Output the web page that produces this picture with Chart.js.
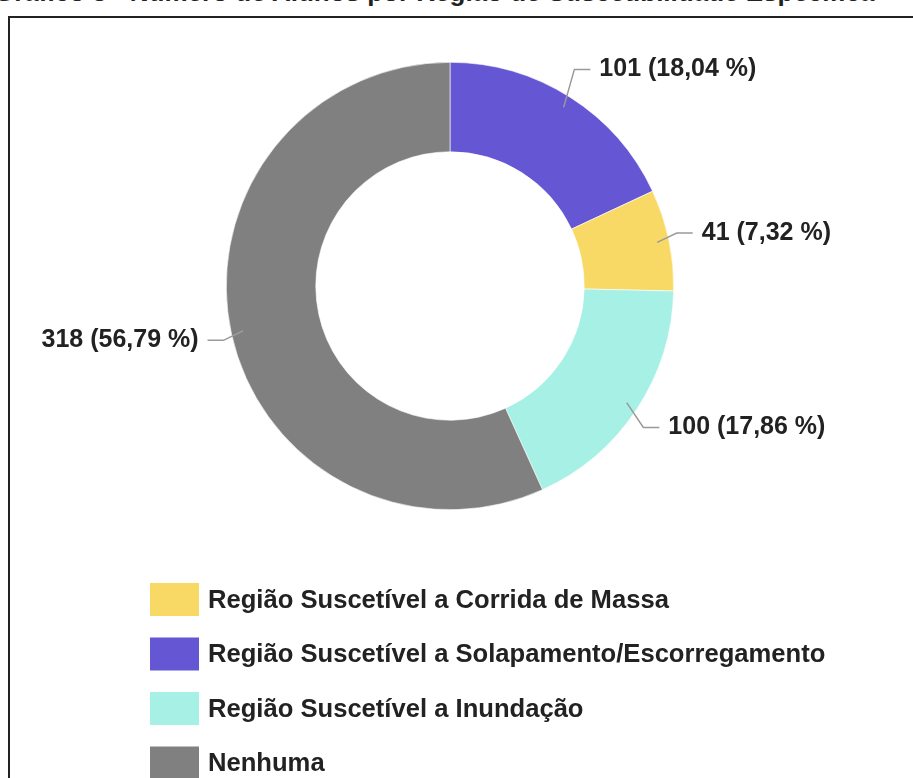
<!DOCTYPE html>
<html lang="pt-BR">
<head>
<meta charset="utf-8">
<title>Número de Alunos por Região de Suscetibilidade</title>
<script src="https://cdn.jsdelivr.net/npm/chart.js@4.4.1/dist/chart.umd.min.js"></script>
<style>
  html, body { margin: 0; padding: 0; background: #fff; overflow: hidden; }
  #wrap { position: relative; width: 913px; height: 778px; }
  #titulo { position: absolute; left: 0; top: 0; width: 913px; height: 15px; overflow: hidden; }
  #titulo span { position: absolute; left: -6px; top: -21px; white-space: nowrap;
    font: bold 26px "Liberation Sans", Arial, sans-serif; line-height: 26px; color: #222; }
  #moldura { position: absolute; left: 8px; top: 16px; width: 940px; height: 800px;
    border-left: 2px solid #222; border-top: 2px solid #222; }
  canvas { position: absolute; left: 0; top: 0; }
</style>
</head>
<body>
<div id="wrap">
  <div id="titulo"><span>Gráfico 3 - Número de Alunos por Região de Suscetibilidade Específica</span></div>
  <div id="moldura"></div>
  <canvas id="graficoRegioes" width="913" height="778"></canvas>
</div>
<script>
// Dados (ordem de desenho, sentido horário a partir do topo)
const categorias = [
  'Região Suscetível a Solapamento/Escorregamento',
  'Região Suscetível a Corrida de Massa',
  'Região Suscetível a Inundação',
  'Nenhuma'
];
const valores = [101, 41, 100, 318];
const cores = ['#6557D3', '#F9D966', '#A7F0E6', '#808080'];
// ordem em que as categorias aparecem na legenda
const ordemLegenda = [1, 0, 2, 3];

const fonte = '"Liberation Sans", Arial, sans-serif';
const total = valores.reduce((a, b) => a + b, 0);

function formatarRotulo(v) {
  const pct = (v / total * 100).toFixed(2).replace('.', ',');
  return `${v} (${pct} %)`;
}

// Rótulos com linhas de chamada
const rotulosPlugin = {
  id: 'rotulos',
  afterDatasetsDraw(chart) {
    const ctx = chart.ctx;
    const meta = chart.getDatasetMeta(0);
    ctx.save();
    ctx.font = 'bold 25px ' + fonte;
    ctx.textBaseline = 'middle';
    meta.data.forEach((arc, i) => {
      const p = arc.getProps(['x', 'y', 'startAngle', 'endAngle', 'outerRadius'], true);
      const meio = (p.startAngle + p.endAngle) / 2;
      const c = Math.cos(meio), s = Math.sin(meio);
      const x0 = p.x + c * (p.outerRadius - 12), y0 = p.y + s * (p.outerRadius - 12);
      // cotovelo afastado um pouco mais na vertical
      const x1 = p.x + c * (p.outerRadius + 8), y1 = p.y + s * (p.outerRadius + 14) * 1.08;
      const dir = c >= 0 ? 1 : -1;
      const x2 = x1 + dir * 16;

      ctx.strokeStyle = '#9a9a9a';
      ctx.lineWidth = 1.5;
      ctx.beginPath();
      ctx.moveTo(x0, y0);
      ctx.lineTo(x1, y1);
      ctx.lineTo(x2, y1);
      ctx.stroke();

      ctx.fillStyle = '#222';
      ctx.textAlign = dir > 0 ? 'left' : 'right';
      ctx.fillText(formatarRotulo(chart.data.datasets[0].data[i]), x2 + dir * 9, y1);
    });
    ctx.restore();
  }
};

// Legenda em coluna abaixo do gráfico
const legendaPlugin = {
  id: 'legendaColuna',
  afterDraw(chart, args, opts) {
    const ctx = chart.ctx;
    const ds = chart.data.datasets[0];
    ctx.save();
    ctx.font = 'bold 25.6px ' + fonte;
    ctx.textBaseline = 'middle';
    ctx.textAlign = 'left';
    ordemLegenda.forEach((idx, linha) => {
      const yTop = opts.top + linha * opts.passo;
      ctx.fillStyle = ds.backgroundColor[idx];
      ctx.fillRect(opts.left, yTop, opts.boxW, opts.boxH);
      ctx.fillStyle = '#222';
      ctx.fillText(chart.data.labels[idx], opts.left + opts.boxW + 9, yTop + opts.boxH / 2 + 1);
    });
    ctx.restore();
  }
};

new Chart(document.getElementById('graficoRegioes'), {
  type: 'doughnut',
  data: {
    labels: categorias,
    datasets: [{
      data: valores,
      backgroundColor: cores,
      borderColor: '#ffffff',
      borderWidth: 0.6
    }]
  },
  options: {
    responsive: false,
    maintainAspectRatio: false,
    animation: false,
    cutout: '60%',
    layout: { padding: { top: 62, bottom: 268, left: 0, right: 13 } },
    plugins: {
      legend: { display: false },
      tooltip: { enabled: false },
      legendaColuna: { left: 150, top: 583, passo: 54.5, boxW: 49, boxH: 33 }
    }
  },
  plugins: [rotulosPlugin, legendaPlugin]
});
</script>
</body>
</html>
